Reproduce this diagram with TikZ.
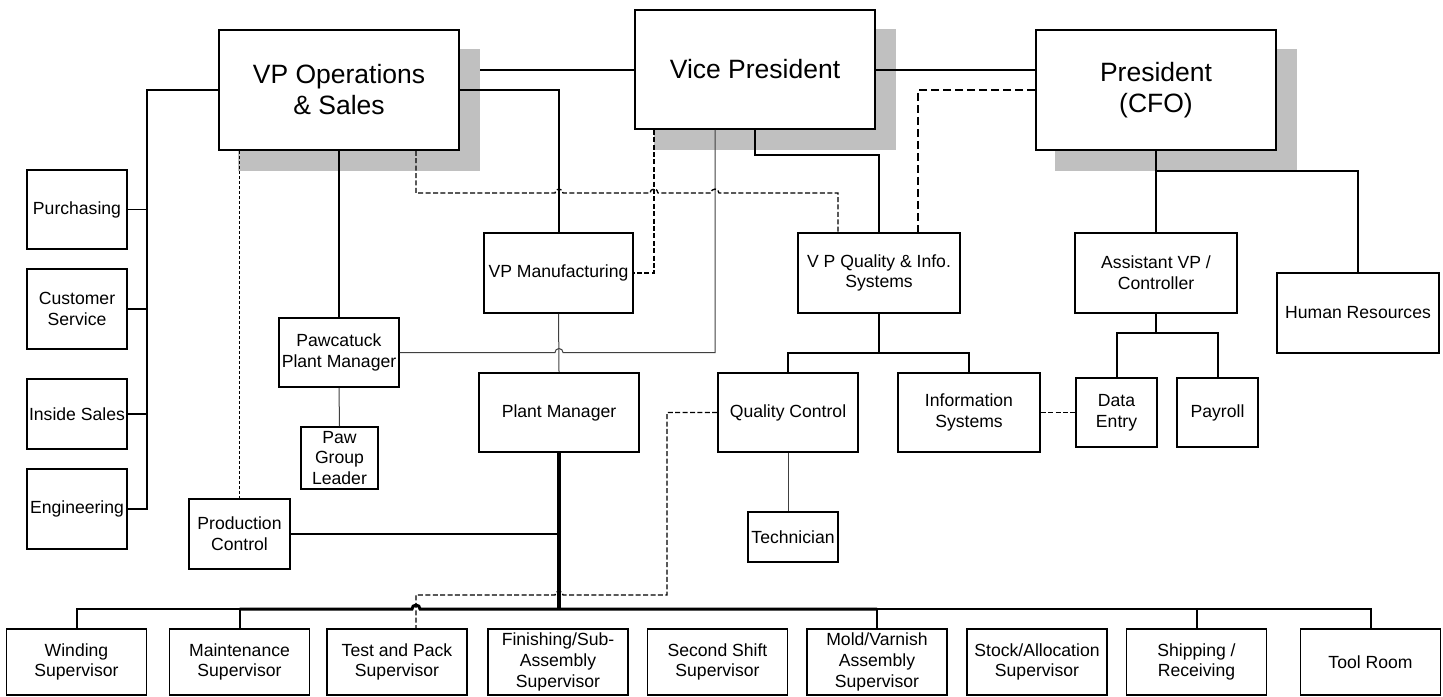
\documentclass[tikz,border=0pt]{standalone}
\usepackage{fontspec}
\setmainfont{Liberation Sans}
\usetikzlibrary{backgrounds}
\definecolor{shadowc}{HTML}{C0C0C0}
\begin{document}
\begin{tikzpicture}[x=0.5pt,y=-0.5pt,
  box/.style={draw, line width=0.8pt, fill=white, align=center, inner sep=1pt,
    font=\fontsize{8.8}{10.3}\selectfont},
  bigbox/.style={box, font=\fontsize{13.25}{15.5}\selectfont},
  sz/.style 2 args={minimum width=#1pt, minimum height=#2pt},
  thk/.style={line width=1pt},
  med/.style={line width=0.8pt},
  buswide/.style={line width=1.5pt},
  thn/.style={line width=0.5pt, draw=black!75},
  trunk/.style={line width=2pt},
  dsh/.style={line width=0.65pt, dash pattern=on 2.5pt off 1.2pt},
  dshl/.style={line width=0.65pt, dash pattern=on 4pt off 2pt},
  dotl/.style={line width=0.6pt, dash pattern=on 1.6pt off 0.9pt}]
\useasboundingbox (0,0) rectangle (1443,696);

% top level
\node[bigbox, sz={120}{60}] (vpops) at (339,90) {VP Operations\\\& Sales};
\node[bigbox, sz={120}{59.5}] (vp) at (755,69.5) {Vice President};
\node[bigbox, sz={120}{60}] (pres) at (1156,90) {President\\(CFO)};

% second level
\node[box, sz={74.5}{40}] (vpmfg) at (558.5,273) {VP Manufacturing};
\node[box, sz={81}{40}] (vpq) at (879,273) {V P Quality \& Info.\\Systems};
\node[box, sz={81}{40}] (avp) at (1156,273) {Assistant VP /\\Controller};
\node[box, sz={81}{40}] (hr) at (1358,313) {Human Resources};
\node[box, sz={60}{34.5}] (paw) at (339,352.5) {Pawcatuck\\Plant Manager};
\node[box, sz={38.5}{31}] (pgl) at (339.5,458) {Paw\\Group\\Leader};
\node[box, sz={80}{39.5}] (pm) at (559,412.5) {Plant Manager};
\node[box, sz={70}{39.5}] (qc) at (788,412.5) {Quality Control};
\node[box, sz={71}{39.5}] (is) at (969,412.5) {Information\\Systems};
\node[box, sz={40.5}{34.5}] (de) at (1116.5,412.5) {Data\\Entry};
\node[box, sz={40.5}{34.5}] (pay) at (1217.5,412.5) {Payroll};
\node[box, sz={45}{25}] (tech) at (793,537) {Technician};
\node[box, sz={50.5}{35}] (pc) at (239.5,534) {Production\\Control};

% left column
\node[box, sz={50}{39.5}] (pur) at (77,209.5) {Purchasing};
\node[box, sz={50}{40}] (cs) at (77,309) {Customer\\Service};
\node[box, sz={50}{35}] (ins) at (77,414) {Inside Sales};
\node[box, sz={50}{40}] (eng) at (77,509) {Engineering};

% bottom row
\node[box, sz={70}{33}] (win) at (76.5,662) {Winding\\Supervisor};
\node[box, sz={70}{33}] (mnt) at (239.5,662) {Maintenance\\Supervisor};
\node[box, sz={70}{33}] (tp) at (397,662) {Test and Pack\\Supervisor};
\node[box, sz={70}{33}] (fin) at (558,662) {Finishing/Sub-\\Assembly\\Supervisor};
\node[box, sz={70}{33}] (ss) at (717.5,662) {Second Shift\\Supervisor};
\node[box, sz={70}{33}] (mold) at (877,662) {Mold/Varnish\\Assembly\\Supervisor};
\node[box, sz={70}{33}] (stock) at (1037,662) {Stock/Allocation\\Supervisor};
\node[box, sz={70}{33}] (ship) at (1196.5,662) {Shipping /\\Receiving};
\node[box, sz={70}{33}] (tool) at (1370.5,662) {Tool Room};

% shadows and the line hidden under them
\begin{scope}[on background layer]
  \draw[thk] (vpops.east |- vp.west) -- (vp.west);
  \foreach \n in {vpops,vp,pres}
    \fill[shadowc] ([shift={(10pt,-10pt)}]\n.south west) rectangle ([shift={(10pt,-10pt)}]\n.north east);
\end{scope}

% helper coordinates
\coordinate (lb) at (147,509);
\coordinate (vq) at (879,155);
\coordinate (pj) at (1156,171);
\coordinate (qj) at (879,353);
\coordinate (aj) at (1156,333);
\coordinate (busC) at (559,609);
\coordinate (t4) at (715,352.5);
\coordinate (d2a) at (416,193);
\coordinate (d2b) at (838,193);
\coordinate (d3) at (654,273);
\coordinate (d4) at (918,90);
\coordinate (d5a) at (667,412.5);
\coordinate (d5b) at (667,595);
\coordinate (d5c) at (416,595);

% solid connectors
\draw[thk] (vp.east) -- (vp.east -| pres.west);
\draw[thk] (vpops.east) -| (vpmfg.north);
\draw[thk] (vpops.west) -| (lb) -- (eng.east);
\foreach \n in {pur,cs,ins} \draw[med] (\n.east) -- (\n.east -| lb);
\draw[thk] (vpops.south) -- (paw.north);
\draw[thk] (vp.south) -- (vp.south |- vq) -| (vpq.north);
\draw[thk] (pres.south) -- (avp.north);
\draw[thk] (pj) -| (hr.north);
\draw[thk] (vpq.south) -- (qj);
\draw[thk] (qc.north) |- (qj) -| (is.north);
\draw[thk] (avp.south) -- (aj);
\draw[thk] (de.north) |- (aj) -| (pay.north);
\draw[thk] (pc.east) -- (pc.east -| pm.south);
\draw[trunk] (pm.south) -- (busC);
\draw[thk] (win.north) |- (mnt.north |- busC) -- (mnt.north);
\draw[buswide] (mnt.north |- busC) -- (412,609) arc[start angle=180, end angle=0, radius=2pt] -- (mold.north |- busC);
\draw[thk] (mold.north) |- (tool.north |- busC) -- (tool.north);
\draw[thk] (ship.north) -- (ship.north |- busC);

% thin connectors
\draw[thn] (vpmfg.south) -- (pm.north);
\draw[thn] (paw.south) -- (pgl.north);
\draw[thn] (qc.south) -- (qc.south |- tech.north);
\draw[thn] (vp.south -| t4) -- (t4) -- (563,352.5) arc[start angle=0, end angle=180, radius=2pt] -- (paw.east);

% dashed connectors
\draw[dotl] (pc.north |- vpops.south) -- (pc.north);
\draw[dsh] (vpops.south -| d2a) -- (d2a) -- (555,193) arc[start angle=180, end angle=0, radius=2pt]
  -- (650,193) arc[start angle=180, end angle=0, radius=2pt]
  -- (711,193) arc[start angle=180, end angle=0, radius=2pt] -- (d2b) -- (vpq.north -| d2b);
\draw[dsh] (vp.south -| d3) -- (d3) -- (vpmfg.east);
\draw[dshl] (pres.west) -- (d4) -- (vpq.north -| d4);
\draw[dsh] (qc.west) -- (d5a) -- (d5b) -- (563,595) arc[start angle=0, end angle=180, radius=2pt] -- (d5c) -- (tp.north -| d5c);
\draw[dsh] (is.east) -- (de.west);
\end{tikzpicture}
\end{document}
